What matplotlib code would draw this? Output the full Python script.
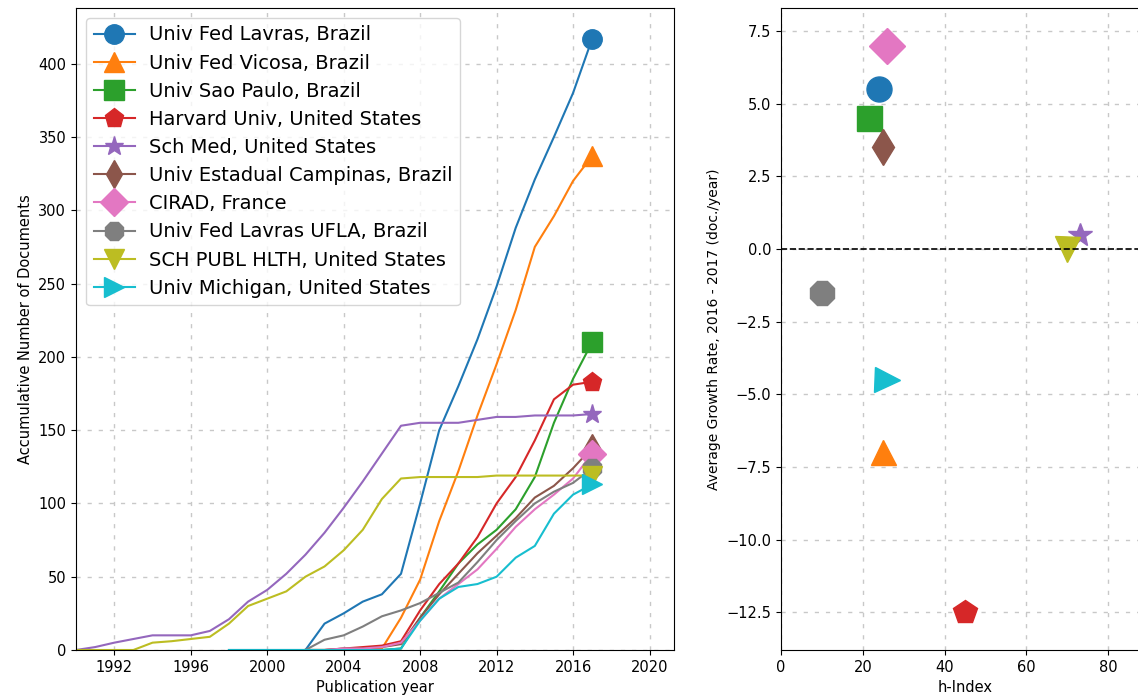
import matplotlib
matplotlib.use("Agg")
import matplotlib.pyplot as plt
import numpy as np

# institutions, styles per series
names = [
    'Univ Fed Lavras, Brazil',
    'Univ Fed Vicosa, Brazil',
    'Univ Sao Paulo, Brazil',
    'Harvard Univ, United States',
    'Sch Med, United States',
    'Univ Estadual Campinas, Brazil',
    'CIRAD, France',
    'Univ Fed Lavras UFLA, Brazil',
    'SCH PUBL HLTH, United States',
    'Univ Michigan, United States',
]
markers = ['o', '^', 's', 'p', '*', 'd', 'D', '8', 'v', '>']

# accumulative documents per year
lavras_years = list(range(1998, 2018))
lavras_docs = [0, 0, 0, 0, 0, 18, 25, 33, 38, 52, 100, 150, 180, 212, 248, 288, 321, 350, 380, 417]

vicosa_years = list(range(2002, 2018))
vicosa_docs = [0, 0, 0, 0, 1, 22, 48, 88, 122, 160, 195, 232, 275, 296, 320, 337]

saopaulo_years = list(range(2002, 2018))
saopaulo_docs = [0, 0, 0, 0, 0, 1, 22, 40, 59, 72, 82, 96, 118, 155, 185, 210]

harvard_years = list(range(2002, 2018))
harvard_docs = [0, 0, 1, 2, 3, 6, 27, 45, 59, 77, 100, 118, 143, 171, 181, 183]

schmed_years = list(range(1990, 2018))
schmed_docs = [0, 2, 5, 7.5, 10, 10, 10, 13, 21, 33, 41, 52, 65, 80, 97, 115, 134, 153,
               155, 155, 155, 157, 159, 159, 160, 160, 160, 161]

campinas_years = list(range(2002, 2018))
campinas_docs = [0, 0, 1, 1, 2, 4, 22, 38, 52, 66, 78, 90, 104, 112, 124, 138]

cirad_years = list(range(2002, 2018))
cirad_docs = [0, 0, 1, 1, 2, 5, 20, 35, 45, 55, 69, 84, 96, 106, 117, 134]

ufla_years = list(range(2002, 2018))
ufla_docs = [0, 7, 10, 16, 23, 27, 32, 39, 46, 60, 75, 88, 100, 108, 114, 124]

schpubl_years = list(range(1990, 2018))
schpubl_docs = [0, 0, 0, 0, 5, 6, 7.5, 9, 18, 30, 35, 40, 50, 57, 68, 82, 103, 117,
                118, 118, 118, 118, 119, 119, 119, 119, 119, 119]

michigan_years = list(range(1998, 2018))
michigan_docs = [0, 0, 0, 0, 0, 0, 0, 0, 0, 1, 20, 35, 43, 45, 50, 63, 71, 93, 106, 113]

years_all = [lavras_years, vicosa_years, saopaulo_years, harvard_years, schmed_years,
             campinas_years, cirad_years, ufla_years, schpubl_years, michigan_years]
docs_all = [lavras_docs, vicosa_docs, saopaulo_docs, harvard_docs, schmed_docs,
            campinas_docs, cirad_docs, ufla_docs, schpubl_docs, michigan_docs]

# right panel: h-index vs growth rate
h_index = [24, 25, 21.5, 45, 73, 25, 26, 10, 70, 26]
growth = [5.5, -7.0, 4.5, -12.5, 0.5, 3.5, 7.0, -1.5, 0.0, -4.5]

colors = plt.rcParams['axes.prop_cycle'].by_key()['color']

fig = plt.figure(figsize=(11.38, 6.99), dpi=100)
ax1 = fig.add_axes([0.0668, 0.0701, 0.5258, 0.9185])
ax2 = fig.add_axes([0.6863, 0.0701, 0.3234, 0.9185])

for i in range(len(names)):
    ax1.plot(years_all[i], docs_all[i], color=colors[i], marker=markers[i],
             markevery=[-1], markersize=14, lw=1.5, label=names[i])

ax1.set_xlim(1990, 2021.3)
ax1.set_ylim(0, 438)
ax1.set_xticks(np.arange(1992, 2021, 4))
ax1.set_xlabel('Publication year', fontsize=10.5)
ax1.set_ylabel('Accumulative Number of Documents', fontsize=10.5)
ax1.tick_params(labelsize=10.5)
ax1.grid(True, ls=(0, (3, 5)), color='#c8c8c8', lw=1)
ax1.legend(loc='upper left', fontsize=14, borderaxespad=0.5, handlelength=2.15,
           labelspacing=0.47, handletextpad=0.7, borderpad=0.4)

for i in range(len(names)):
    ax2.plot(h_index[i], growth[i], ls='none', marker=markers[i], color=colors[i],
             markersize=18)
ax2.axhline(0, color='black', ls='--', lw=1.2)
ax2.set_xlim(0, 90)
ax2.set_ylim(-13.8, 8.3)
ax2.set_xticks([0, 20, 40, 60, 80])
ax2.set_xlabel('h-Index', fontsize=10.5)
ax2.set_ylabel('Average Growth Rate, 2016 - 2017 (doc./year)', fontsize=10)
ax2.tick_params(labelsize=10.5)
ax2.grid(True, ls=(0, (3, 5)), color='#c8c8c8', lw=1)

fig.savefig('out.png', dpi=100)
